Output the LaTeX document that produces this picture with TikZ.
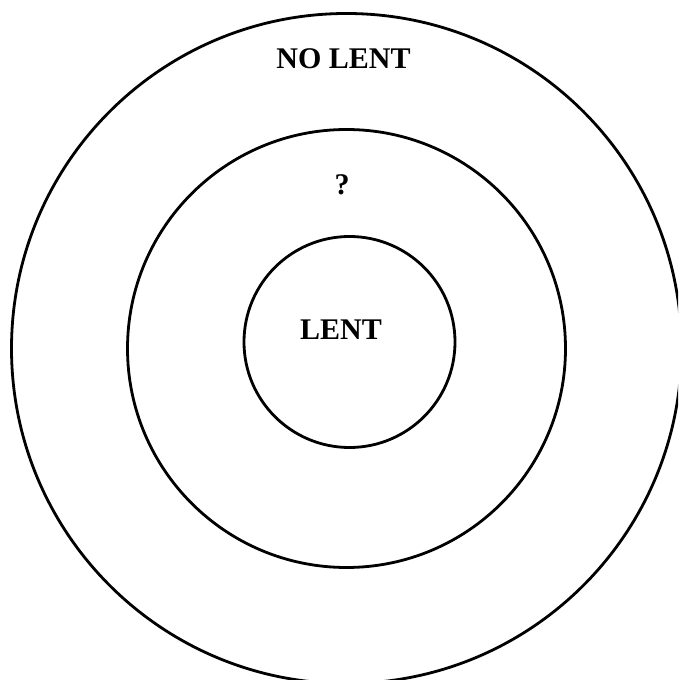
\documentclass[tikz,border=0pt]{standalone}
\usepackage{fontspec}
\setmainfont{Liberation Serif}
\usepackage{tikz}

\tikzset{
  ring/.style={draw=black, line width=2.8pt},
  ringlabel/.style={anchor=base, inner sep=0pt, font=\fontsize{30}{36}\selectfont\bfseries}
}

\begin{document}
\begin{tikzpicture}[x=1pt,y=1pt]
  %% 0. Frame
  \useasboundingbox (0,0) rectangle (678,680);
  \clip (0,0) rectangle (678,680);
  %% 1. Rings
  \draw[ring] (346.5,331.5) circle (335);
  \draw[ring] (346.5,331.5) circle (219);
  \draw[ring] (349.5,338) circle (105.5);
  %% 2. Labels
  \node[ringlabel] (nolent) at (343.5,611) {NO LENT};
  \node[ringlabel] (unknown) at (342,485) {?};
  \node[ringlabel] (lent) at (341,340) {LENT};
\end{tikzpicture}
\end{document}
